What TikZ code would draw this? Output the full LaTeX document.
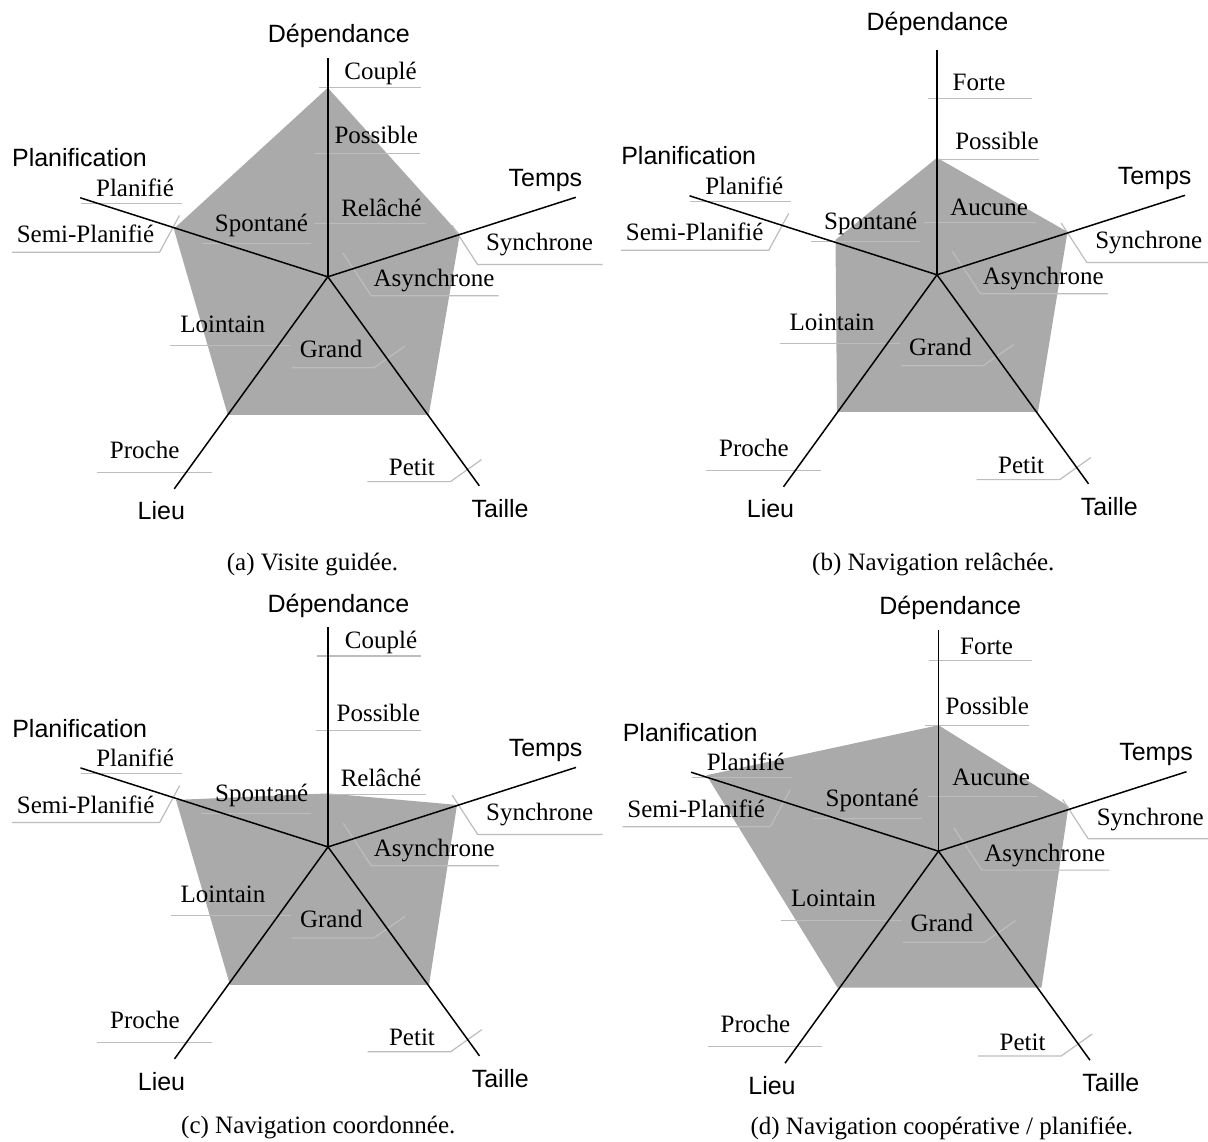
\documentclass[tikz,border=0pt]{standalone}
\usepackage{fontspec}
\setmainfont{Liberation Serif}
\setsansfont{Liberation Sans}
\definecolor{areagray}{gray}{0.667}
\definecolor{ulgray}{gray}{0.74}

% Five axes of a radar chart, with their names
\newcommand\radaraxes[3]{%
  \coordinate (o) at (0,0);
  \coordinate (dep) at (0,#1);
  \coordinate (tps) at (248,-79.5);
  \coordinate (pla) at (-247.5,-79);
  \coordinate (lieu) at (-153.5,212);
  \coordinate (tai) at (151.5,209);
  \draw[axis] (o) -- (dep);
  \draw[axis] (o) -- (tps);
  \draw[axis] (o) -- (pla);
  \draw[axis] (o) -- (lieu);
  \draw[axis] (o) -- (tai);
  \node[dim] (dep-name) at (#2,#3) {Dépendance};
  \node[dim] (tps-name) at (217.6,-90.3) {Temps};
  \node[dim] (pla-name) at (-248.3,-109.9) {Planification};
  \node[dim] (lieu-name) at (-166.5,243.1) {Lieu};
  \node[dim] (tai-name) at (172.3,240.7) {Taille};
}

% Level labels shared by every chart, with their leader lines
\newcommand\radarlevels{%
  \draw[tick] (-247,-73.5) -- (-146.3,-73.5);
  \draw[tick] (-315.9,-24.5) -- (-168.3,-24.5) -- (-148.3,-61.4);
  \draw[tick] (-125.8,-33.1) -- (-16.6,-33.1);
  \draw[tick] (274.7,-12.4) -- (149.7,-12.4) -- (124.2,-51.7);
  \draw[tick] (170.8,18.9) -- (43.4,18.9) -- (15.2,-23.6);
  \draw[tick] (-157.5,68.9) -- (-37.5,68.9);
  \draw[tick] (-35.8,91) -- (46,91) -- (77,69.5);
  \draw[tick] (-230.7,195.5) -- (-116.1,195.5);
  \draw[tick] (39.5,204.8) -- (122.7,204.8) -- (153.7,182.8);
  \node[lvl] (planifie) at (-192.8,-80.4) {Planifié};
  \node[lvl] (semiplan) at (-242.3,-33.9) {Semi-Planifié};
  \node[lvl] (spontane) at (-66.3,-45) {Spontané};
  \node[lvl] (synchrone) at (211.7,-26) {Synchrone};
  \node[lvl] (asynchrone) at (106.2,10) {Asynchrone};
  \node[lvl] (lointain) at (-105,55.6) {Lointain};
  \node[lvl] (grand) at (3.3,80.7) {Grand};
  \node[lvl] (proche) at (-183.1,181.6) {Proche};
  \node[lvl] (petit) at (84,198.8) {Petit};
}

% One level of the dependence axis: name, text, x, baseline, line y, line x1, line x2
\newcommand\deplevel[7]{%
  \draw[tick] (#6,#5) -- (#7,#5);
  \node[lvl] (#1) at (#3,#4) {#2};
}

\begin{document}
\begin{tikzpicture}[x=0.5pt,y=-0.5pt,
  axis/.style={line width=0.75pt, black},
  tick/.style={line width=0.6pt, color=ulgray},
  area/.style={fill=areagray},
  lvl/.style={font=\fontsize{12.5}{15}\selectfont, anchor=base, inner sep=0pt},
  dim/.style={font=\sffamily\fontsize{12.5}{15}\selectfont, anchor=base, inner sep=0pt},
  caption/.style={font=\fontsize{12.5}{15}\selectfont, anchor=base, inner sep=0pt}]

\useasboundingbox[fill=white] (0,0) rectangle (1208,1141);

% (a) Visite guidee
\begin{scope}[shift={(327.8,276.8)}, name prefix=a-]
  \fill[area] (0,-189) -- (132,-42.5) -- (101,138) -- (-100,138) -- (-154,-48) -- cycle;
  \radarlevels
  \deplevel{l1}{Couplé}{52.7}{-197.7}{-189}{-9}{93}
  \deplevel{l2}{Possible}{48.4}{-133.2}{-123.1}{-12.8}{91.7}
  \deplevel{l3}{Relâché}{53.7}{-60.8}{-53.6}{-13.2}{98.5}
  \radaraxes{-219}{11}{-234.5}
\end{scope}

% (b) Navigation relachee
\begin{scope}[shift={(937,274.8)}, name prefix=b-]
  \fill[area] (0,-117) -- (130.5,-43) -- (101,137) -- (-100,137) -- (-101.5,-35) -- cycle;
  \radarlevels
  \deplevel{l1}{Forte}{42}{-184.6}{-176.1}{-8.7}{94.7}
  \deplevel{l2}{Possible}{60}{-125.6}{-115.5}{0}{101.7}
  \deplevel{l3}{Aucune}{52.2}{-59.3}{-52.4}{-12.9}{99}
  \radaraxes{-224.8}{0.5}{-244.3}
\end{scope}

% (c) Navigation coordonnee
\begin{scope}[shift={(328,846.9)}, name prefix=c-]
  \fill[area] (0,-53.5) -- (129,-42) -- (101,138) -- (-98,138) -- (-152,-47) -- cycle;
  \radarlevels
  \deplevel{l1}{Couplé}{53}{-198.2}{-190.9}{-10.8}{92.9}
  \deplevel{l2}{Possible}{50.3}{-125.1}{-116.4}{-11.6}{92.9}
  \deplevel{l3}{Relâché}{53}{-60.6}{-52.6}{0.7}{98.3}
  \radaraxes{-220.3}{10.5}{-234.6}
\end{scope}

% (d) Navigation cooperative / planifiee
\begin{scope}[shift={(938.5,851.2)}, name prefix=d-]
  \fill[area] (0,-126) -- (130,-45) -- (103,136.5) -- (-101,136.5) -- (-232,-76) -- cycle;
  \radarlevels
  \deplevel{l1}{Forte}{48}{-197.1}{-190.6}{-9.7}{93.6}
  \deplevel{l2}{Possible}{48.8}{-136.6}{-126.1}{-13.5}{90.9}
  \deplevel{l3}{Aucune}{52.7}{-65.7}{-54.5}{-10.5}{99.4}
  \radaraxes{-221}{11.7}{-236.4}
\end{scope}

\node[caption] (cap-a) at (312.5,570) {(a) Visite guidée.};
\node[caption] (cap-b) at (933.3,570) {(b) Navigation relâchée.};
\node[caption] (cap-c) at (318.3,1133.5) {(c) Navigation coordonnée.};
\node[caption] (cap-d) at (941.8,1134.5) {(d) Navigation coopérative / planifiée.};
\end{tikzpicture}
\end{document}
